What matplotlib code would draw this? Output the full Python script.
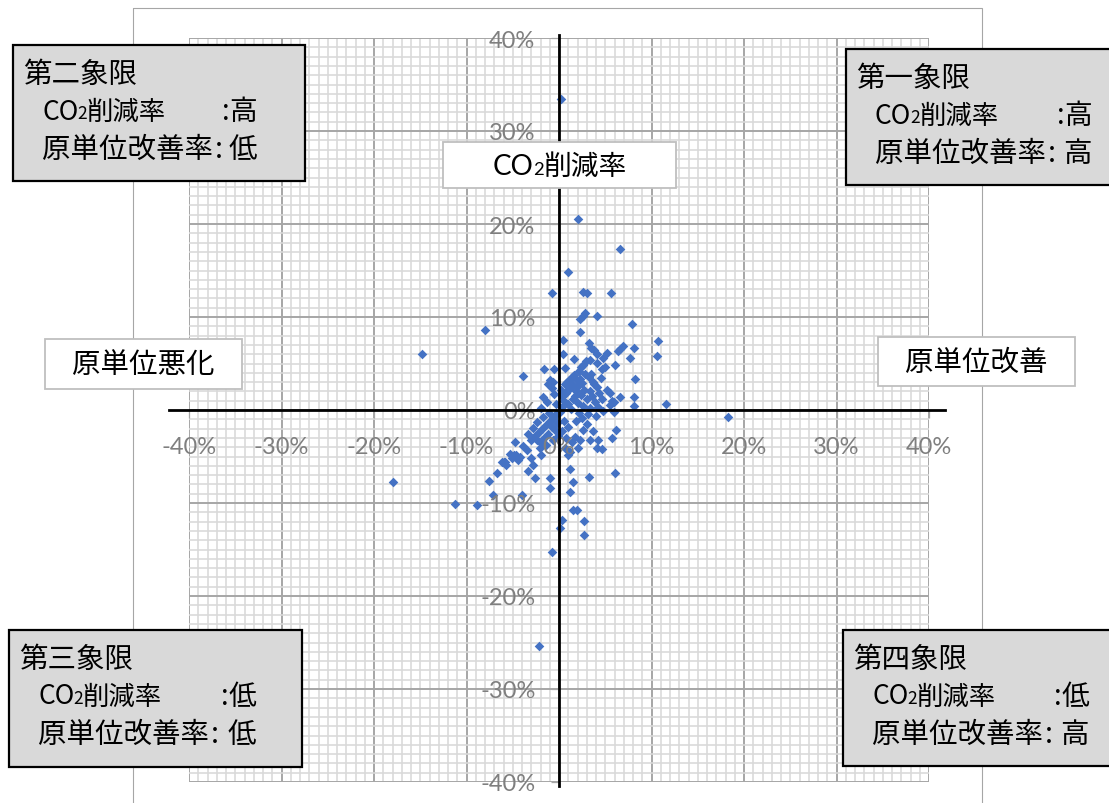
import numpy as np
import matplotlib.pyplot as plt
from matplotlib.patches import Rectangle

plt.rcParams['font.family'] = ['Noto Sans CJK JP', 'DejaVu Sans']
plt.rcParams['axes.unicode_minus'] = False

# 原単位改善率(%) / CO2削減率(%)
# 上側・外れ値
x_upper = [0.2, 2.1, 6.6, 1.0, -0.8, 2.6, 3.0, 5.6, -8.0, 2.8,
           2.6, 2.3, 4.1, 7.9, 2.3, 0.4, 3.2, 3.5, 3.8, 10.7,
           10.6, 6.9, 6.6, 6.4, 8.1, 7.7, 5.2, 4.1, 4.8, 0.4,
           1.6, 2.9, 3.4, 2.6, 2.4, 4.1, 6.0, 5.0, 4.6, -1.6,
           -0.5, 0.7, -3.9, -14.8, 8.2, -1.0, -0.6, -0.8, -1.2, 1.4,
           1.9, 1.5, 3.2, 3.7, 4.1, 5.2, 5.5, 6.6, 8.1, 5.7,
           -1.7, -1.3, -1.9, 5.9, 5.5, 5.9, 8.1, 11.6, 18.3]
y_upper = [33.4, 20.5, 17.3, 14.8, 12.6, 12.7, 12.6, 12.6, 8.6, 10.4,
           10.1, 9.8, 10.1, 9.2, 8.4, 7.5, 7.2, 6.7, 6.5, 7.4,
           5.8, 6.9, 6.6, 6.3, 6.7, 5.6, 6.1, 6.0, 5.6, 6.0,
           5.5, 5.3, 5.4, 4.8, 4.6, 5.1, 4.8, 4.6, 4.4, 4.4,
           4.4, 4.5, 3.7, 6.0, 3.3, 3.2, 3.0, 2.4, 2.8, 3.6,
           3.2, 2.7, 3.6, 3.0, 2.5, 2.2, 1.8, 1.4, 1.4, 1.0,
           1.4, 0.9, 0.2, 0.9, 0.5, -0.2, 0.4, 0.6, -0.8]
# 原点付近
x_core = [0.3, 0.5, 0.8, 1.2, 1.0, 1.5, 1.8, 2.1, 2.4, 2.0,
          2.7, 3.0, 2.6, 3.3, 3.6, 3.9, 4.3, 4.6, 4.2, 3.4,
          0.2, 0.6, 1.1, 2.3, 2.8, 2.2, 3.5, 1.6, 0.9, 0.3,
          -0.3, -0.5, 0.1, 1.3, 2.2, 3.1, 4.0, 4.8, 1.7,
          2.5, 3.8, 4.5, 1.0]
y_core = [0.3, 1.0, 1.8, 2.4, 0.6, 1.2, 2.0, 2.6, 1.6, 0.8,
          2.2, 1.2, 0.4, 2.0, 1.5, 0.9, 1.8, 1.2, 0.3, 0.2,
          2.1, 2.8, 3.2, 3.3, 3.9, 4.2, 3.9, 3.8, 3.0, 1.5,
          0.6, 1.7, -0.2, 0.1, -0.3, -0.4, -0.6, -0.1, 1.5,
          2.9, 2.8, 3.4, 2.2]
# 第四象限側
x_lower_r = [6.2, 5.7, 6.1, 3.7, 2.6, 3.4, 4.2, 4.1, 4.6, 2.3,
             2.1, 1.2, 1.0, 1.2, 1.5, 1.2, 3.2, 0.3, 0.8, 1.4,
             1.7, 0.5, 1.0, 1.8, 2.5, 3.0, 0.6, 1.5, 1.9, 0.3,
             0.1, 2.7, 2.7, -0.8, -2.2]
y_lower_r = [-2.2, -3.0, -6.8, -2.3, -2.2, -3.2, -3.2, -4.1, -4.2, -3.2,
             -4.1, -4.5, -4.8, -6.3, -7.7, -8.8, -7.2, -2.3, -3.0, -3.4,
             -2.9, -1.2, -1.8, -1.2, -0.9, -1.5, -4.1, -10.8, -10.8, -11.8,
             -12.7, -11.9, -13.4, -15.3, -25.4]
# 第三象限側
x_lower_l = [-1.0, -1.0, -2.8, -2.6, -4.0, -7.6, -6.7, -6.0, -5.7, -5.1,
             -4.9, -4.6, -4.8, -3.9, -3.5, -3.0, -1.9, -2.1, -2.4, -5.3,
             -6.2, -5.8, -4.4, -4.2, -3.4, -11.2, -8.9, -18.0, -7.1,
             -0.3, -0.6, -1.0, -1.4, -1.8, -2.2, -2.6, -3.0, -0.8, -1.2,
             -1.6, -2.0, -0.4, -0.2, -2.8, -2.4, -1.7, -1.1, -3.3, -0.6,
             -1.4, -0.1]
y_lower_l = [-7.3, -8.4, -5.9, -7.3, -9.1, -7.6, -6.8, -5.6, -5.9, -5.2,
             -4.8, -4.8, -3.4, -3.9, -4.3, -5.2, -4.8, -4.1, -3.2, -4.7,
             -5.6, -5.6, -5.4, -5.0, -6.6, -10.1, -10.2, -7.7, -9.1,
             -0.4, -0.9, -1.2, -1.6, -2.0, -2.4, -2.8, -3.2, -1.8, -2.6,
             -3.0, -3.5, -2.2, -1.4, -1.9, -1.3, -0.8, -0.3, -2.6, -3.2,
             -3.8, -2.8]

unit_rate = x_upper + x_core + x_lower_r + x_lower_l
co2_rate = y_upper + y_core + y_lower_r + y_lower_l

ticks = list(range(-40, 41, 10))
tick_labels = [f'{t}%' for t in ticks]

quad_titles = ['第二象限', '第一象限', '第三象限', '第四象限']
quad_co2 = ['高', '高', '低', '低']
quad_unit = ['低', '高', '低', '高']

W, H = 1109, 804
fig = plt.figure(figsize=(W / 100, H / 100), dpi=100)
rect = [189 / W, 1 - 783 / H, 740 / W, 744 / H]

# 背景の方眼
bg = fig.add_axes(rect)
bg.set_xlim(-40, 40)
bg.set_ylim(-40, 40)
bg.set_xticks(ticks)
bg.set_yticks(ticks)
bg.set_xticks(np.arange(-40, 41, 1), minor=True)
bg.set_yticks(np.arange(-40, 41, 1), minor=True)
bg.grid(which='minor', color='#d9d9d9', lw=1.15)
bg.grid(which='major', color='#a6a6a6', lw=1.4)
bg.tick_params(which='both', length=0, labelbottom=False, labelleft=False)
for s in bg.spines.values():
    s.set_visible(False)

# 散布図
ax = fig.add_axes(rect)
ax.patch.set_visible(False)
ax.scatter(unit_rate, co2_rate, marker='D', s=24, color='#4472C4', lw=0, zorder=1)
ax.set_xlim(-40, 40)
ax.set_ylim(-40, 40)
ax.spines['top'].set_visible(False)
ax.spines['right'].set_visible(False)
ax.spines['left'].set_position(('data', 0))
ax.spines['bottom'].set_position(('data', 0))
ax.spines['bottom'].set_bounds(-42.2, 41.7)
ax.spines['left'].set_bounds(-40.4, 40.3)
for k in ('left', 'bottom'):
    ax.spines[k].set_color('black')
    ax.spines[k].set_linewidth(2.0)
    ax.spines[k].set_clip_on(False)
ax.set_xticks(ticks)
ax.set_xticklabels(tick_labels)
ax.set_yticks(ticks)
ax.set_yticklabels(tick_labels)
ax.tick_params(direction='out', length=6, width=0.9, color='#a6a6a6',
               labelcolor='#7f7f7f', labelsize=17, labelfontfamily='Lato')
ax.tick_params(axis='x', pad=13)
ax.tick_params(axis='y', pad=11)

# ラベル・象限ボックス（ピクセル座標）
ov = fig.add_axes([0, 0, 1, 1], zorder=10)
ov.set_xlim(0, W)
ov.set_ylim(H, 0)
ov.axis('off')

ov.add_patch(Rectangle((133, 9), 849, 820, fill=False, ec='#a6a6a6', lw=0.8, zorder=1))


def co2_text(x, y, rest, size, fam):
    t = ov.text(x, y, 'CO', fontsize=size, va='center', ha='left', family=fam, zorder=5)
    s = ov.annotate('2', xy=(1, 0), xycoords=t, xytext=(-0.8, 1.5), textcoords='offset points',
                    fontsize=size * 0.66, va='bottom', ha='left', family=fam, zorder=5)
    ov.annotate(rest, xy=(1, 0.5), xycoords=(s, t), xytext=(0, 0), textcoords='offset points',
                fontsize=size, va='center', ha='left', zorder=5)


def label_box(x0, y0, x1, y1):
    ov.add_patch(Rectangle((x0, y0), x1 - x0, y1 - y0, fc='white', ec='#bfbfbf', lw=1.3, zorder=3))


label_box(443, 143, 676, 189)
co2_text(493, 167, '削減率', 20, 'Lato')
label_box(45, 340, 242, 390)
ov.text(143, 365, '原単位悪化', fontsize=20.5, ha='center', va='center', zorder=5)
label_box(878, 338, 1075, 387)
ov.text(976, 363, '原単位改善', fontsize=20.5, ha='center', va='center', zorder=5)

# 象限ボックス: 左, 上, 右, 下, 値の右端
quad_pos = [(13, 46, 305, 182, 257),
            (846, 50, 1120, 186, 1092),
            (9, 631, 302, 768, 256),
            (843, 631, 1120, 767, 1089)]
for (x0, y0, x1, y1, rx), title, v1, v2 in zip(quad_pos, quad_titles, quad_co2, quad_unit):
    ov.add_patch(Rectangle((x0, y0), x1 - x0, y1 - y0, fc='#d9d9d9', ec='black', lw=1.6,
                           zorder=3, clip_on=False))
    ov.text(x0 + 10, y0 + 29, title, fontsize=20.5, ha='left', va='center', zorder=5)
    co2_text(x0 + 29, y0 + 66, '削減率', 19, 'Noto Sans CJK JP')
    ov.text(rx - 35, y0 + 66, ':', fontsize=20, ha='left', va='center', zorder=5)
    ov.text(rx, y0 + 66, v1, fontsize=20, ha='right', va='center', zorder=5)
    t3 = ov.text(x0 + 29, y0 + 104, '原単位改善率', fontsize=20.5, ha='left', va='center', zorder=5)
    ov.annotate(':', xy=(1, 0.5), xycoords=t3, xytext=(1, 0), textcoords='offset points',
                fontsize=20.5, ha='left', va='center', zorder=5)
    ov.text(rx, y0 + 104, v2, fontsize=20.5, ha='right', va='center', zorder=5)

fig.savefig('out.png', dpi=100)
